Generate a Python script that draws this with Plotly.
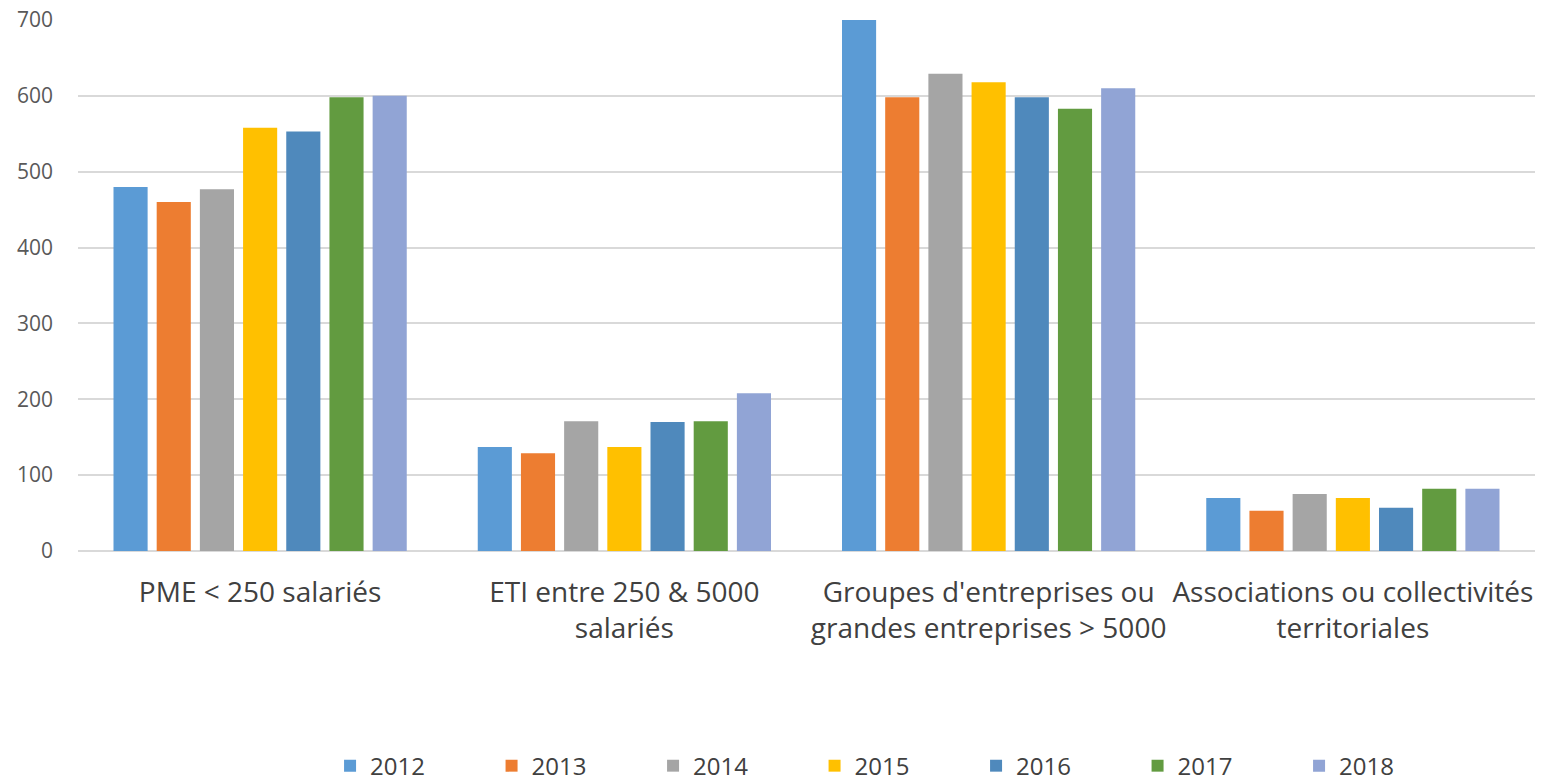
import plotly.graph_objects as go

categories = ["PME &lt; 250 salariés",
              "ETI entre 250 &amp; 5000<br>salariés",
              "Groupes d'entreprises ou<br>grandes entreprises &gt; 5000",
              "Associations ou collectivités<br>territoriales"]

years = ["2012", "2013", "2014", "2015", "2016", "2017", "2018"]

v2012 = [480, 137, 700, 70]
v2013 = [460, 129, 598, 53]
v2014 = [477, 171, 629, 75]
v2015 = [558, 137, 618, 70]
v2016 = [553, 170, 598, 57]
v2017 = [598, 171, 583, 82]
v2018 = [600, 208, 610, 82]

series = [v2012, v2013, v2014, v2015, v2016, v2017, v2018]
colors = ["#5B9BD5", "#ED7D31", "#A5A5A5", "#FFC000", "#4F89BC", "#629B40", "#91A4D5"]

fig = go.Figure()
for y, vals, c in zip(years, series, colors):
    fig.add_trace(go.Bar(name=y, x=categories, y=vals, marker_color=c,
                         marker_line_width=0))

fig.update_layout(
    width=1541, height=782,
    paper_bgcolor="white", plot_bgcolor="white",
    margin=dict(l=78, r=6, t=20, b=231, autoexpand=False),
    barmode="group", bargap=0.17, bargroupgap=0.21,
    font=dict(family="Open Sans, sans-serif", color="#404040"),
    showlegend=True,
    legend=dict(orientation="h", x=0.173, xanchor="left", y=-0.405, yanchor="middle",
                entrywidth=116.5, font=dict(size=24, color="#404040"),
                itemwidth=30, tracegroupgap=0),
)
fig.update_yaxes(range=[0, 700], dtick=100, showgrid=True, gridcolor="#D9D9D9",
                 gridwidth=1.5, zeroline=True, zerolinecolor="#D9D9D9", zerolinewidth=1.5,
                 tickfont=dict(size=21, color="#595959"), ticks="", showline=False,
                 ticklabelstandoff=24, ticklabeloverflow="allow")
fig.update_xaxes(tickfont=dict(size=28, color="#404040"), showline=False, ticks="",
                 ticklabelstandoff=22)

# drop the default 8px page margin so the figure fills the window
fig.write_html("out.html", config={"displayModeBar": False},
               post_script="document.body.style.margin='0';")
